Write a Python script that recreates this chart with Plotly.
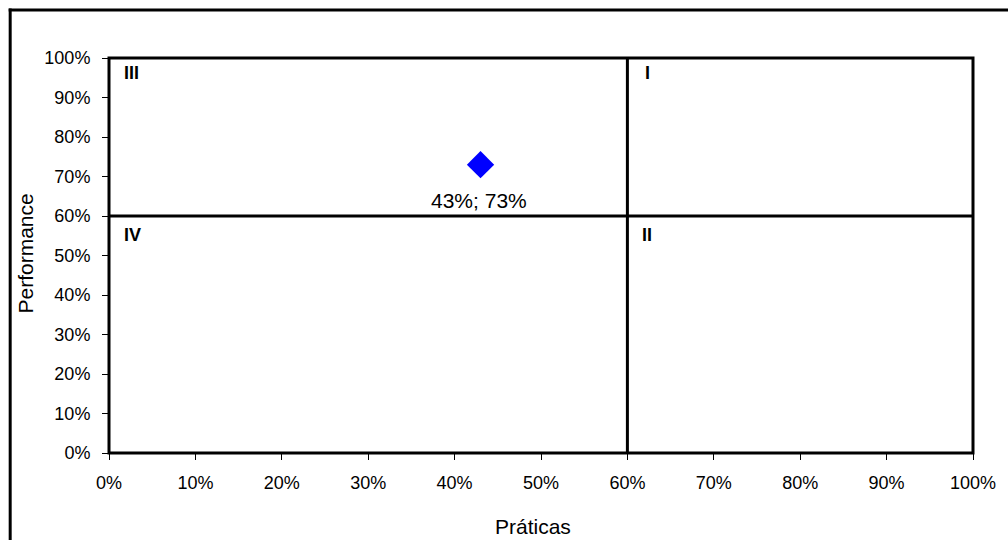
import plotly.graph_objects as go

# Practice vs. performance position (fractions of 100%)
praticas = [0.43]
performance = [0.73]

# Quadrant thresholds
limite_x = 0.60
limite_y = 0.60

# Quadrant names and where they sit (data coordinates)
quadrantes = ["III", "I", "IV", "II"]
quad_x = [0.015, 0.618, 0.015, 0.614]
quad_y = [0.962, 0.962, 0.553, 0.553]

FONT = "Liberation Sans, Arial, sans-serif"

W, H = 1008, 540
ML, MR, MT, MB = 109, 29, 58, 87
PW, PH = W - ML - MR, H - MT - MB


def px_to_paper_x(px):
    return (px - ML) / PW


def px_to_paper_y(py):
    return (H - MB - py) / PH


fig = go.Figure()

fig.add_trace(go.Scatter(
    x=praticas, y=performance, mode="markers",
    marker=dict(symbol="diamond", size=21, color="#0000FF", line=dict(width=0)),
    showlegend=False, cliponaxis=False,
))

annotations = []
for xv, yv in zip(praticas, performance):
    annotations.append(dict(
        x=xv, y=yv, xref="x", yref="y", text=f"{xv:.0%}; {yv:.0%}",
        showarrow=False, yanchor="middle", xanchor="center", yshift=-36, xshift=-2,
        font=dict(family=FONT, size=21, color="black"),
    ))

for name, qx, qy in zip(quadrantes, quad_x, quad_y):
    annotations.append(dict(
        x=qx, y=qy, xref="x", yref="y", text=f"<b>{name}</b>",
        showarrow=False, xanchor="left", yanchor="middle",
        font=dict(family=FONT, size=18, color="black"),
    ))

# Axis titles
annotations.append(dict(
    x=0, y=0.5, xref="paper", yref="paper", text="Performance", textangle=-90,
    showarrow=False, xanchor="center", yanchor="middle", xshift=25 - ML, yshift=2,
    font=dict(family=FONT, size=21, color="black"),
))
annotations.append(dict(
    x=0.5, y=0, xref="paper", yref="paper", text="Práticas",
    showarrow=False, xanchor="center", yanchor="middle", xshift=-8, yshift=-73,
    font=dict(family=FONT, size=21, color="black"),
))

shapes = [
    # plot area frame
    dict(type="rect", xref="paper", yref="paper", x0=0, x1=1, y0=0, y1=1,
         line=dict(color="black", width=3), layer="above"),
    # quadrant dividers
    dict(type="line", xref="x", yref="paper", x0=limite_x, x1=limite_x, y0=0, y1=1,
         line=dict(color="black", width=3), layer="below"),
    dict(type="line", xref="paper", yref="y", x0=0, x1=1, y0=limite_y, y1=limite_y,
         line=dict(color="black", width=3), layer="below"),
    # outer chart frame (open to the right and bottom edges of the page)
    dict(type="line", xref="paper", yref="paper",
         x0=px_to_paper_x(9.5), x1=px_to_paper_x(9.5),
         y0=px_to_paper_y(560), y1=px_to_paper_y(8.5),
         line=dict(color="black", width=3), layer="above"),
    dict(type="line", xref="paper", yref="paper",
         x0=px_to_paper_x(8), x1=px_to_paper_x(1030),
         y0=px_to_paper_y(10), y1=px_to_paper_y(10),
         line=dict(color="black", width=3), layer="above"),
]

axis_common = dict(
    range=[0, 1], dtick=0.1, tick0=0, tickformat=".0%",
    showgrid=False, zeroline=False, showline=False,
    ticks="outside", ticklen=6, tickwidth=1, tickcolor="black",
    tickfont=dict(family=FONT, size=18, color="black"),
    fixedrange=True,
)

fig.update_layout(
    width=W, height=H,
    margin=dict(l=ML, r=MR, t=MT, b=MB, pad=0),
    paper_bgcolor="white", plot_bgcolor="white",
    xaxis=dict(**axis_common, ticklabelstandoff=7),
    yaxis=dict(**axis_common, ticklabelstandoff=8),
    shapes=shapes, annotations=annotations,
    showlegend=False,
)

fig.write_html("out.html", config={"displayModeBar": False})
